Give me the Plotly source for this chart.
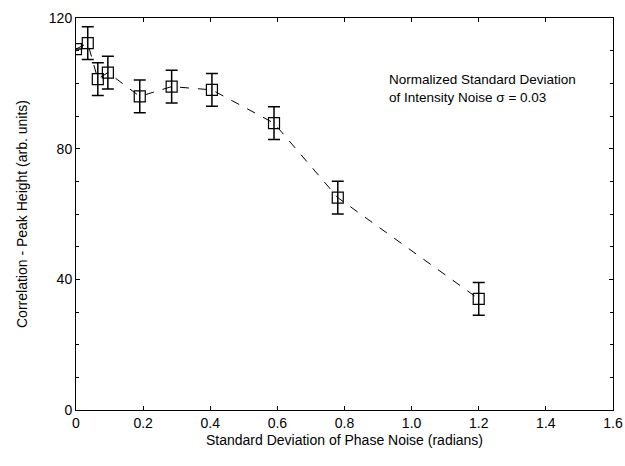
import plotly.graph_objects as go

phase_noise = [0.0, 0.035, 0.065, 0.095, 0.19, 0.285, 0.405, 0.59, 0.78, 1.2]
peak_height = [110.5, 112.3, 101.3, 103.3, 96.0, 99.0, 98.0, 87.8, 65.0, 34.0]
error = [0, 5, 5, 5, 5, 5, 5, 5, 5, 5]

x_ticks = [0, 0.2, 0.4, 0.6, 0.8, 1.0, 1.2, 1.4, 1.6]
x_tick_labels = ["0", "0.2", "0.4", "0.6", "0.8", "1.0", "1.2", "1.4", "1.6"]
y_ticks = [0, 40, 80, 120]

fig = go.Figure()
fig.add_trace(go.Scatter(
    x=phase_noise, y=peak_height,
    mode="lines+markers",
    line=dict(color="black", width=1, dash="dash"),
    marker=dict(symbol="square-open", size=11, color="black", line=dict(width=1.2)),
    error_y=dict(type="data", array=error, visible=True, color="black", thickness=1.5, width=6),
    cliponaxis=True,
    showlegend=False,
))

axis_font = dict(family="Liberation Sans, Arial, sans-serif", size=14, color="black")

fig.update_xaxes(
    range=[0, 1.6001], tickvals=x_ticks, ticktext=x_tick_labels,
    ticks="inside", ticklen=4, tickcolor="black", mirror="allticks",
    showline=True, linecolor="black", linewidth=1, showgrid=False, zeroline=False,
    tickfont=axis_font, ticklabeloverflow="allow", automargin=False,
    title=dict(text="Standard Deviation of Phase Noise (radians)", font=axis_font, standoff=5),
)
fig.update_yaxes(
    range=[0, 120], tickvals=y_ticks,
    ticks="inside", ticklen=4, tickcolor="black", mirror="allticks",
    minor=dict(dtick=10, ticks="inside", ticklen=3, tickcolor="black"),
    showline=True, linecolor="black", linewidth=1, showgrid=False, zeroline=False,
    tickfont=axis_font, automargin=False,
    title=dict(text="Correlation - Peak Height (arb. units)", font=axis_font, standoff=17),
)

fig.add_annotation(
    x=0.928, y=104.2, xref="x", yref="y", xanchor="left", yanchor="top",
    text="Normalized Standard Deviation<br>of Intensity Noise σ = 0.03",
    showarrow=False, align="left",
    font=dict(family="Liberation Sans, Arial, sans-serif", size=13.5, color="black"),
)

fig.update_layout(
    width=625, height=466,
    margin=dict(l=76, r=12, t=18, b=56),
    paper_bgcolor="white", plot_bgcolor="white",
)

fig.write_html("out.html")
